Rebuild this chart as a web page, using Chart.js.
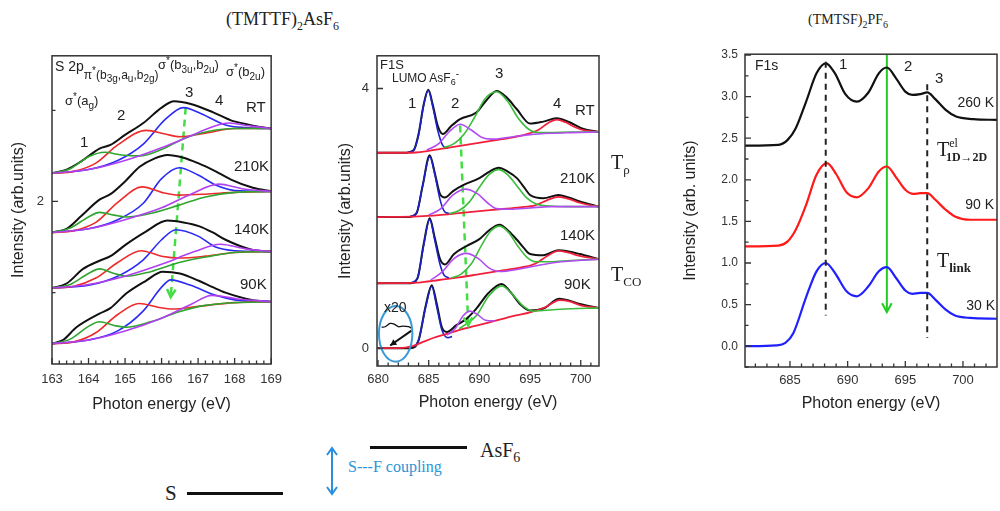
<!DOCTYPE html>
<html>
<head>
<meta charset="utf-8">
<script src="https://cdn.jsdelivr.net/npm/chart.js@4.4.0/dist/chart.umd.min.js"></script>
<style>
body{margin:0;background:#fff;width:1000px;height:511px;position:relative;overflow:hidden;font-family:"Liberation Sans",Arial,sans-serif;}
canvas{position:absolute;}
.t{position:absolute;white-space:nowrap;line-height:1;color:#222;}
.sf{font-family:"Liberation Serif","DejaVu Serif",serif;}
sub,sup{line-height:0;}
</style>
</head>
<body>

<canvas id="gS" width="290" height="380" style="left:0;top:40px"></canvas>
<canvas id="gF" width="285" height="380" style="left:330px;top:40px"></canvas>
<canvas id="gP" width="320" height="380" style="left:680px;top:40px"></canvas>

<!-- titulos -->
<div class="t sf" style="left:226px;top:10px;font-size:18px">(TMTTF)<sub style="font-size:12px">2</sub>AsF<sub style="font-size:12px">6</sub></div>
<div class="t sf" style="left:808px;top:13px;font-size:14px">(TMTSF)<sub style="font-size:10px">2</sub>PF<sub style="font-size:10px">6</sub></div>

<!-- panel S 2p -->
<div class="t" style="left:55px;top:59px;font-size:14px">S 2p<span style="font-size:12px;position:relative;top:8px">&pi;<sup style="font-size:10px">*</sup>(b<sub style="font-size:10px">3g</sub>,a<sub style="font-size:10px">u</sub>,b<sub style="font-size:10px">2g</sub>)</span></div>
<div class="t" style="left:158px;top:58px;font-size:13px">&sigma;<sup style="font-size:10px">*</sup>(b<sub style="font-size:10px">3u</sub>,b<sub style="font-size:10px">2u</sub>)</div>
<div class="t" style="left:226px;top:65px;font-size:13px">&sigma;<sup style="font-size:10px">*</sup>(b<sub style="font-size:10px">2u</sub>)</div>
<div class="t" style="left:65px;top:94px;font-size:13px">&sigma;<sup style="font-size:10px">*</sup>(a<sub style="font-size:10px">g</sub>)</div>
<div class="t" style="left:80px;top:134px;font-size:15px">1</div>
<div class="t" style="left:117px;top:107px;font-size:15px">2</div>
<div class="t" style="left:185px;top:84px;font-size:15px">3</div>
<div class="t" style="left:215px;top:92px;font-size:15px">4</div>
<div class="t" style="left:246px;top:99px;font-size:15px">RT</div>
<div class="t" style="left:234px;top:158px;font-size:15px">210K</div>
<div class="t" style="left:234px;top:221px;font-size:15px">140K</div>
<div class="t" style="left:240px;top:276px;font-size:15px">90K</div>

<!-- panel F1S -->
<div class="t" style="left:380px;top:58px;font-size:13px">F1S</div>
<div class="t" style="left:392px;top:72px;font-size:12px">LUMO AsF<sub style="font-size:9px">6</sub><sup style="font-size:10px">-</sup></div>
<div class="t" style="left:408px;top:95px;font-size:15px">1</div>
<div class="t" style="left:451px;top:95px;font-size:15px">2</div>
<div class="t" style="left:495px;top:65px;font-size:15px">3</div>
<div class="t" style="left:553px;top:95px;font-size:15px">4</div>
<div class="t" style="left:575px;top:102px;font-size:15px">RT</div>
<div class="t" style="left:560px;top:170px;font-size:15px">210K</div>
<div class="t" style="left:560px;top:227px;font-size:15px">140K</div>
<div class="t" style="left:564px;top:276px;font-size:15px">90K</div>
<div class="t" style="left:384px;top:300px;font-size:14px">x20</div>
<div class="t sf" style="left:611px;top:152px;font-size:20px">T<sub style="font-size:13px">&rho;</sub></div>
<div class="t sf" style="left:611px;top:264px;font-size:20px">T<sub style="font-size:13px">CO</sub></div>

<!-- panel (TMTSF)2PF6 -->
<div class="t" style="left:755px;top:58px;font-size:14px">F1s</div>
<div class="t" style="left:839px;top:56px;font-size:15px">1</div>
<div class="t" style="left:904px;top:58px;font-size:15px">2</div>
<div class="t" style="left:935px;top:70px;font-size:15px">3</div>
<div class="t" style="right:6px;top:95px;font-size:14px">260 K</div>
<div class="t" style="right:6px;top:197px;font-size:14px">90 K</div>
<div class="t" style="right:5px;top:298px;font-size:14px">30 K</div>
<div class="t sf" style="left:937px;top:139px;font-size:20px">T<span style="font-size:12px;position:relative;top:-9px">el</span><span style="font-size:12px;position:relative;top:5px;left:-12px;font-weight:bold">1D&rarr;2D</span></div>
<div class="t sf" style="left:937px;top:250px;font-size:20px">T<sub style="font-size:13px;font-weight:bold">link</sub></div>

<!-- esquema inferior -->
<div class="t sf" style="left:165px;top:483px;font-size:21px">S</div>
<div style="position:absolute;left:187px;top:492px;width:96px;height:3px;background:#111"></div>
<div style="position:absolute;left:370px;top:446px;width:97px;height:3px;background:#111"></div>
<div class="t sf" style="left:480px;top:440px;font-size:20px">AsF<sub style="font-size:14px">6</sub></div>
<div class="t sf" style="left:348px;top:459px;font-size:16px;color:#2b95d6">S---F coupling</div>
<svg style="position:absolute;left:324px;top:445px" width="16" height="52">
  <line x1="8" y1="4" x2="8" y2="48" stroke="#2b8fe0" stroke-width="2"/>
  <polyline points="3,10 8,3 13,10" fill="none" stroke="#2b8fe0" stroke-width="2"/>
  <polyline points="3,42 8,49 13,42" fill="none" stroke="#2b8fe0" stroke-width="2"/>
</svg>

<script>
// ---------- S 2p, (TMTTF)2AsF6 ----------
var s2pRT_total  = [[163,2.31],[163.4,2.35],[163.8,2.44],[164.3,2.58],[164.6,2.62],[165,2.73],[165.5,2.86],[166,3.03],[166.34,3.10],[166.8,3.07],[167.4,2.98],[167.9,2.89],[168.3,2.85],[168.65,2.82],[169,2.80]];
var s2pRT_green  = [[163,2.31],[163.5,2.36],[164,2.49],[164.44,2.54],[164.9,2.51],[165.4,2.50],[166,2.57],[166.67,2.70],[167.3,2.77],[168,2.80],[169,2.80]];
var s2pRT_red    = [[163,2.31],[163.6,2.33],[164.2,2.42],[164.8,2.62],[165.58,2.78],[166.1,2.74],[166.5,2.71],[167.2,2.75],[168,2.80],[169,2.80]];
var s2pRT_blue   = [[163,2.31],[164,2.35],[164.8,2.45],[165.5,2.63],[166.1,2.90],[166.6,3.03],[167.1,2.96],[167.75,2.84],[168.3,2.81],[169,2.80]];
var s2pRT_purple = [[163,2.31],[164,2.35],[165,2.45],[166,2.59],[166.8,2.72],[167.4,2.82],[167.84,2.86],[168.4,2.83],[169,2.80]];

var s2p210_total  = [[163,1.66],[163.4,1.70],[163.8,1.84],[164.3,2.02],[164.6,2.08],[165,2.22],[165.4,2.38],[165.8,2.47],[166.16,2.51],[166.6,2.48],[167,2.42],[167.48,2.33],[167.9,2.24],[168.5,2.15],[169,2.11]];
var s2p210_green  = [[163,1.66],[163.5,1.71],[164,1.83],[164.3,1.88],[164.7,1.85],[165.03,1.83],[165.6,1.86],[166.48,1.96],[167.2,2.05],[168,2.10],[169,2.11]];
var s2p210_red    = [[163,1.66],[163.6,1.68],[164.2,1.77],[164.8,1.99],[165.48,2.16],[166,2.10],[166.48,2.07],[167.2,2.08],[168,2.10],[169,2.11]];
var s2p210_blue   = [[163,1.66],[164,1.70],[164.8,1.80],[165.5,1.98],[166,2.25],[166.48,2.37],[167,2.29],[167.48,2.18],[168,2.12],[169,2.11]];
var s2p210_purple = [[163,1.66],[164,1.70],[165,1.80],[166,1.93],[166.8,2.08],[167.57,2.19],[168.2,2.14],[169,2.11]];

var s2p140_total  = [[163,1.05],[163.4,1.10],[163.85,1.26],[164.3,1.35],[164.6,1.40],[165.03,1.53],[165.57,1.67],[166.16,1.79],[166.6,1.77],[167.02,1.73],[167.4,1.66],[167.75,1.58],[168.47,1.47],[169,1.45]];
var s2p140_green  = [[163,1.05],[163.5,1.09],[164,1.21],[164.3,1.26],[164.7,1.21],[165.03,1.18],[165.7,1.23],[166.48,1.33],[167.35,1.40],[168,1.44],[169,1.45]];
var s2p140_red    = [[163,1.05],[163.6,1.07],[164.2,1.16],[164.8,1.33],[165.44,1.46],[166,1.40],[166.48,1.38],[167.2,1.40],[168,1.44],[169,1.45]];
var s2p140_blue   = [[163,1.05],[164,1.08],[164.8,1.18],[165.5,1.36],[166,1.58],[166.39,1.69],[167,1.62],[167.48,1.50],[168,1.46],[169,1.45]];
var s2p140_purple = [[163,1.05],[164,1.09],[165,1.18],[166,1.31],[166.9,1.45],[167.61,1.53],[168.3,1.48],[169,1.45]];

var s2p90_total  = [[163,0.44],[163.3,0.48],[163.67,0.62],[164.3,0.77],[164.6,0.83],[165.03,0.99],[165.57,1.13],[166.03,1.23],[166.5,1.21],[167.02,1.13],[167.4,1.06],[167.75,1.00],[168.47,0.92],[169,0.90]];
var s2p90_green  = [[163,0.44],[163.5,0.49],[164,0.63],[164.3,0.68],[164.7,0.64],[165.03,0.62],[165.7,0.68],[166.48,0.79],[167.2,0.86],[168,0.89],[169,0.90]];
var s2p90_red    = [[163,0.44],[163.6,0.46],[164.2,0.56],[164.8,0.76],[165.39,0.88],[165.9,0.84],[166.3,0.82],[167,0.85],[168,0.89],[169,0.90]];
var s2p90_blue   = [[163,0.44],[164,0.48],[164.8,0.58],[165.5,0.80],[166,1.06],[166.25,1.14],[166.8,1.08],[167.48,0.97],[168,0.92],[169,0.90]];
var s2p90_purple = [[163,0.44],[164,0.48],[165,0.58],[166,0.72],[166.8,0.87],[167.38,0.97],[168.1,0.93],[169,0.90]];

var s2pShift = [[166.66,3.03],[166.25,0.95]];

// ---------- F1S, (TMTTF)2AsF6 ----------
var f1RT_total  = [[679.9,3.01],[682.5,3.01],[683.5,3.05],[684,3.3],[684.5,3.75],[684.96,3.98],[685.4,3.75],[685.9,3.42],[686.4,3.30],[687.2,3.42],[688.1,3.53],[689.7,3.63],[690.7,3.82],[691.7,3.96],[692.7,3.86],[693.7,3.68],[695,3.46],[696.3,3.49],[697.6,3.54],[698.9,3.48],[700.2,3.38],[701.8,3.33]];
var f1RT_blue   = [[683,3.02],[683.5,3.04],[684,3.28],[684.5,3.74],[684.96,3.97],[685.4,3.72],[685.9,3.35],[686.4,3.12],[686.9,3.08]];
var f1RT_purple = [[684.8,3.05],[686,3.15],[687,3.33],[688.1,3.45],[689.2,3.36],[690.2,3.25],[691.2,3.22],[693,3.25],[695,3.29],[697,3.31],[699,3.32],[701.8,3.33]];
var f1RT_green  = [[686.5,3.09],[687.5,3.15],[688.5,3.30],[689.5,3.55],[690.6,3.85],[691.7,3.95],[692.8,3.80],[693.8,3.55],[694.8,3.38],[695.8,3.32],[697,3.32],[699,3.33],[701.8,3.33]];
var f1RT_red    = [[679.9,3.01],[683,3.01],[685,3.04],[687,3.09],[689,3.14],[691,3.19],[693,3.24],[694.5,3.29],[695.8,3.36],[696.8,3.47],[697.6,3.52],[698.5,3.48],[699.5,3.40],[700.5,3.35],[701.8,3.33]];

var f1210_total  = [[679.9,2.02],[683,2.02],[683.8,2.08],[684.4,2.5],[685.1,2.97],[685.6,2.7],[686.1,2.38],[686.6,2.32],[687.4,2.42],[688.4,2.51],[690,2.62],[691,2.72],[691.9,2.78],[692.8,2.72],[693.7,2.62],[694.4,2.48],[695,2.36],[696.3,2.31],[697.8,2.36],[698.8,2.32],[699.9,2.26],[701.8,2.18]];
var f1210_blue   = [[683.2,2.03],[683.8,2.08],[684.4,2.5],[685.1,2.95],[685.6,2.68],[686.1,2.3],[686.5,2.12],[687,2.07]];
var f1210_purple = [[685,2.05],[686.2,2.15],[687.4,2.36],[688.6,2.45],[689.8,2.38],[690.8,2.24],[691.7,2.15],[693,2.14],[695,2.16],[697,2.18],[699,2.18],[701.8,2.18]];
var f1210_green  = [[687,2.07],[688,2.12],[689,2.25],[690,2.48],[691,2.68],[691.9,2.75],[692.8,2.67],[693.8,2.48],[694.7,2.31],[695.6,2.22],[697,2.19],[699,2.18],[701.8,2.18]];
var f1210_red    = [[679.9,2.02],[684,2.03],[686,2.05],[688,2.08],[690,2.11],[692,2.14],[694,2.17],[695.5,2.20],[696.7,2.28],[697.8,2.33],[698.8,2.30],[699.9,2.24],[701,2.20],[701.8,2.18]];

var f1140_total  = [[679.9,1.0],[683.2,1.0],[683.9,1.08],[684.5,1.6],[685.1,2.0],[685.6,1.7],[686.1,1.38],[686.6,1.29],[687.5,1.45],[688.7,1.57],[690,1.68],[691,1.82],[692,1.90],[692.9,1.80],[693.7,1.67],[694.4,1.54],[695,1.45],[696.3,1.43],[697.8,1.51],[698.8,1.49],[699.9,1.45],[701.8,1.37]];
var f1140_blue   = [[683.3,1.01],[683.9,1.08],[684.5,1.58],[685.1,1.98],[685.6,1.66],[686.1,1.3],[686.5,1.13],[687,1.08]];
var f1140_purple = [[685.2,1.05],[686.3,1.17],[687.5,1.38],[688.7,1.46],[689.9,1.38],[690.9,1.24],[692,1.18],[694,1.22],[696,1.28],[698,1.33],[701.8,1.37]];
var f1140_green  = [[687.2,1.08],[688.2,1.14],[689.2,1.30],[690.2,1.58],[691.1,1.80],[692,1.88],[692.9,1.78],[693.8,1.57],[694.7,1.40],[695.6,1.33],[697,1.33],[699,1.35],[701.8,1.37]];
var f1140_red    = [[679.9,1.0],[684,1.01],[686,1.05],[688,1.09],[690,1.14],[692,1.19],[694,1.24],[695.5,1.30],[696.7,1.42],[697.8,1.50],[698.8,1.47],[699.9,1.42],[701,1.39],[701.8,1.37]];

var f190_total  = [[679.9,0],[683.2,0],[684,0.12],[684.7,0.65],[685.3,0.97],[685.8,0.68],[686.3,0.32],[686.8,0.25],[687.7,0.35],[688.7,0.45],[689.7,0.61],[690.9,0.85],[692.2,0.99],[693.1,0.86],[694,0.68],[695,0.58],[696.3,0.61],[697.9,0.76],[698.9,0.73],[699.9,0.68],[701.8,0.62]];
var f190_blue   = [[683.5,0.02],[684,0.12],[684.7,0.63],[685.3,0.95],[685.8,0.63],[686.3,0.28],[686.9,0.16],[687.3,0.18]];
var f190_purple = [[686.8,0.20],[687.6,0.30],[688.4,0.50],[689.1,0.57],[689.8,0.52],[690.6,0.43],[691.5,0.42]];
var f190_green  = [[688,0.30],[688.8,0.38],[689.8,0.52],[690.9,0.80],[692.2,0.96],[693.2,0.84],[694.3,0.65],[695.3,0.57],[696.3,0.58],[698,0.60],[701.8,0.62]];
var f190_red    = [[679.9,0],[682,0],[683.4,0.03],[684.5,0.10],[685.5,0.16],[686.8,0.22],[688.5,0.30],[690,0.36],[691.8,0.43],[693.5,0.50],[695,0.55],[696.5,0.63],[697.9,0.74],[698.9,0.72],[700,0.66],[701.8,0.62]];

var f1Zoom20  = [[680.36,0.32],[680.7,0.33],[681.2,0.38],[681.6,0.37],[682,0.33],[682.5,0.34],[683,0.33],[683.3,0.31]];
var f1Pointer = [[683.3,0.27],[681.2,0.04]];
var f1Shift   = [[688.1,3.43],[688.9,0.35]];
var f1Ring    = {x:681.74, y:0.22, rx:1.65, ry:0.43};

// ---------- F1s, (TMTSF)2PF6 ----------
var pf260 = [[681.1,2.41],[684,2.42],[684.8,2.48],[685.5,2.62],[686.4,2.94],[687.3,3.28],[688.1,3.40],[688.9,3.28],[689.8,3.03],[690.8,2.94],[691.8,3.05],[692.7,3.28],[693.4,3.35],[694.2,3.22],[695,3.06],[695.6,3.02],[696.3,3.03],[696.9,3.05],[697.6,2.97],[698.5,2.84],[699.4,2.76],[700.9,2.73],[703,2.72]];
var pf90  = [[681.1,1.20],[684,1.21],[684.8,1.26],[685.5,1.40],[686.4,1.70],[687.3,2.06],[688.2,2.20],[689,2.07],[689.9,1.85],[690.8,1.79],[691.8,1.90],[692.7,2.10],[693.4,2.16],[694.2,2.03],[695,1.88],[695.7,1.83],[696.3,1.84],[696.9,1.84],[697.6,1.76],[698.5,1.64],[699.3,1.56],[700.6,1.52],[703,1.52]];
var pf30  = [[681.1,0],[683.8,0.01],[684.6,0.04],[685.3,0.16],[686.4,0.59],[687.3,0.90],[688.1,1.0],[688.9,0.88],[689.9,0.66],[690.8,0.60],[691.8,0.72],[692.7,0.90],[693.4,0.95],[694.2,0.82],[695,0.67],[695.6,0.63],[696.3,0.64],[696.9,0.64],[697.6,0.56],[698.5,0.44],[699.3,0.37],[700.6,0.34],[703,0.33]];
var pfMark1 = [[688.1,3.42],[688.1,0.37]];
var pfMark3 = [[696.9,3.15],[696.9,0.10]];
var pfShift = [[693.4,3.51],[693.4,0.41]];

// ---------- ayudas ----------
function xy(a){ return a.map(function(p){ return {x:p[0], y:p[1]}; }); }
function linea(datos, color, ancho, extra){
	var d = {data:xy(datos), borderColor:color, borderWidth:ancho, pointRadius:0, fill:false, cubicInterpolationMode:'monotone'};
	if(extra){ for(var k in extra){ d[k]=extra[k]; } }
	return d;
}

var marco = {
	id:'marco',
	afterDatasetsDraw:function(chart){
		var ctx=chart.ctx;
		chart.data.datasets.forEach(function(ds,i){
			if(!ds.flecha) return;
			var pts=chart.getDatasetMeta(i).data;
			var a=pts[pts.length-2], b=pts[pts.length-1];
			var ang=Math.atan2(b.y-a.y,b.x-a.x), L=ds.flechaLargo||9;
			ctx.save();
			ctx.strokeStyle=ds.borderColor; ctx.fillStyle=ds.borderColor; ctx.lineWidth=ds.borderWidth; ctx.setLineDash([]);
			ctx.beginPath();
			ctx.moveTo(b.x-L*Math.cos(ang-0.5), b.y-L*Math.sin(ang-0.5));
			ctx.lineTo(b.x, b.y);
			ctx.lineTo(b.x-L*Math.cos(ang+0.5), b.y-L*Math.sin(ang+0.5));
			if(ds.flecha==='llena'){ ctx.closePath(); ctx.fill(); } else { ctx.stroke(); }
			ctx.restore();
		});
		var anillo=chart.options.plugins.marco && chart.options.plugins.marco.anillo;
		if(anillo){
			var sx=chart.scales.x, sy=chart.scales.y;
			var cx=sx.getPixelForValue(anillo.x), cy=sy.getPixelForValue(anillo.y);
			var rx=Math.abs(sx.getPixelForValue(anillo.x+anillo.rx)-cx), ry=Math.abs(sy.getPixelForValue(anillo.y+anillo.ry)-cy);
			ctx.save(); ctx.strokeStyle='#3a9ad9'; ctx.lineWidth=2;
			ctx.beginPath(); ctx.ellipse(cx,cy,rx,ry,0,0,Math.PI*2); ctx.stroke(); ctx.restore();
		}
	},
	afterDraw:function(chart){
		var ctx=chart.ctx, a=chart.chartArea, sx=chart.scales.x, sy=chart.scales.y;
		ctx.save();
		ctx.strokeStyle='#333'; ctx.lineWidth=1.5;
		ctx.strokeRect(a.left,a.top,a.right-a.left,a.bottom-a.top);
		ctx.lineWidth=1.3;
		ctx.beginPath();
		sx.ticks.forEach(function(t){
			var p=sx.getPixelForValue(t.value), L=t.label?6:3.5;
			ctx.moveTo(p,a.bottom); ctx.lineTo(p,a.bottom-L);
		});
		sy.ticks.forEach(function(t){
			var p=sy.getPixelForValue(t.value), L=t.label?6:3.5;
			ctx.moveTo(a.left,p); ctx.lineTo(a.left+L,p);
		});
		ctx.stroke();
		ctx.restore();
	}
};

function marcas(desde, hasta, paso){
	var r=[], n=Math.round((hasta-desde)/paso);
	for(var i=0;i<=n;i++){ r.push({value:+(desde+i*paso).toFixed(4)}); }
	return r;
}

function opciones(cfg){
	return {
		responsive:false, animation:false,
		layout:{padding:cfg.pad},
		plugins:{legend:{display:false}, tooltip:{enabled:false}, marco:{anillo:cfg.anillo}},
		scales:{
			x:{type:'linear', min:cfg.xmin, max:cfg.xmax,
				grid:{display:false, drawTicks:false}, border:{display:false},
				afterBuildTicks:function(s){ s.ticks=cfg.xt; },
				afterFit:function(s){ s.height=cfg.xh; },
				ticks:{padding:cfg.xpad, color:'#333', font:{size:13, family:'"Liberation Sans", Arial'}, maxRotation:0, autoSkip:false, callback:cfg.xlab},
				title:{display:true, text:'Photon energy (eV)', color:'#222', font:{size:16, family:'"Liberation Sans", Arial'}, padding:{top:0, bottom:cfg.xtb}}
			},
			y:{type:'linear', min:cfg.ymin, max:cfg.ymax,
				grid:{display:false, drawTicks:false}, border:{display:false},
				afterBuildTicks:function(s){ s.ticks=cfg.yt; },
				afterFit:function(s){ s.width=cfg.yw; },
				ticks:{padding:cfg.ypad, color:'#333', font:{size:cfg.yfs||13, family:'"Liberation Sans", Arial'}, autoSkip:false, callback:cfg.ylab},
				title:{display:true, text:cfg.ytitle, color:'#222', font:{size:16, family:'"Liberation Sans", Arial'}, padding:{top:cfg.ytt, bottom:0}}
			}
		}
	};
}

var NEGRO='#111', VERDE='#2fa52f', ROJO='#ee2a2a', AZUL='#2b2bf5', MORADO='#b040f0';

// ---- grafica S 2p ----
var dsS=[];
[[s2pRT_purple,s2pRT_green,s2pRT_red,s2pRT_blue,s2pRT_total],
 [s2p210_purple,s2p210_green,s2p210_red,s2p210_blue,s2p210_total],
 [s2p140_purple,s2p140_green,s2p140_red,s2p140_blue,s2p140_total],
 [s2p90_purple,s2p90_green,s2p90_red,s2p90_blue,s2p90_total]].forEach(function(g){
	dsS.push(linea(g[0],MORADO,1.6));
	dsS.push(linea(g[1],VERDE,1.6));
	dsS.push(linea(g[2],ROJO,1.6));
	dsS.push(linea(g[3],AZUL,1.6));
	dsS.push(linea(g[4],NEGRO,2));
});
dsS.push(linea(s2pShift,'#44dd44',2.5,{borderDash:[7,5], flecha:'abierta', cubicInterpolationMode:'default', tension:0}));

new Chart(document.getElementById('gS'),{
	type:'line', data:{datasets:dsS}, plugins:[marco],
	options:opciones({pad:{left:0,top:13,right:17,bottom:0}, xmin:163, xmax:169, ymin:0.217, ymax:3.598,
		xt:marcas(163,169,0.2), xh:56, xpad:8, xtb:6,
		xlab:function(v){ return Math.abs(v-Math.round(v))<1e-6 ? String(Math.round(v)) : ''; },
		yt:marcas(1,3,1), yw:52, ypad:8, ytt:9, ytitle:'Intensity (arb.units)',
		ylab:function(v){ return v===2 ? '2' : ''; }})
});

// ---- grafica F1S ----
var AZUL2='#1c22c8', MORADO2='#b24cf2', VERDE2='#3cbc3c', ROJO2='#f0203c';
var dsF=[];
[[f1RT_red,f1RT_purple,f1RT_green,f1RT_blue,f1RT_total],
 [f1210_red,f1210_purple,f1210_green,f1210_blue,f1210_total],
 [f1140_red,f1140_purple,f1140_green,f1140_blue,f1140_total],
 [f190_red,f190_purple,f190_green,f190_blue,f190_total]].forEach(function(g){
	dsF.push(linea(g[1],MORADO2,1.6));
	dsF.push(linea(g[2],VERDE2,1.6));
	dsF.push(linea(g[0],ROJO2,1.8));
	dsF.push(linea(g[3],AZUL2,1.6));
	dsF.push(linea(g[4],NEGRO,2));
});
dsF.push(linea(f1Zoom20,NEGRO,1.3,{cubicInterpolationMode:'default', tension:0.3}));
dsF.push(linea(f1Pointer,NEGRO,2,{flecha:'llena', flechaLargo:7, cubicInterpolationMode:'default', tension:0}));
dsF.push(linea(f1Shift,'#44dd44',2.5,{borderDash:[7,5], flecha:'abierta', cubicInterpolationMode:'default', tension:0}));

new Chart(document.getElementById('gF'),{
	type:'line', data:{datasets:dsF}, plugins:[marco],
	options:opciones({pad:{left:0,top:13,right:16,bottom:0}, xmin:679.9, xmax:701.8, ymin:-0.275, ymax:4.504,
		xt:marcas(680,701,1), xh:54, xpad:6, xtb:8,
		xlab:function(v){ return v%5===0 ? String(v) : ''; },
		yt:[{value:0},{value:4}], yw:47, ypad:8, ytt:6, ytitle:'Intensity (arb.units)',
		ylab:function(v){ return String(v); }, anillo:f1Ring})
});

// ---- grafica (TMTSF)2PF6 ----
var dsP=[
	linea(pfMark1,'#222',2,{borderDash:[6,5], cubicInterpolationMode:'default', tension:0}),
	linea(pfMark3,'#222',2,{borderDash:[6,5], cubicInterpolationMode:'default', tension:0}),
	linea(pf260,NEGRO,2.2),
	linea(pf90,'#ff1a1a',2.2),
	linea(pf30,'#2020ff',2.2),
	linea(pfShift,'#22cc22',2,{flecha:'abierta', flechaLargo:10, cubicInterpolationMode:'default', tension:0})
];

new Chart(document.getElementById('gP'),{
	type:'line', data:{datasets:dsP}, plugins:[marco],
	options:opciones({pad:{left:0,top:12,right:3,bottom:0}, xmin:681.1, xmax:702.95, ymin:-0.25, ymax:3.51,
		xt:marcas(682,702,1), xh:53, xpad:6, xtb:7,
		xlab:function(v){ return v%5===0 ? String(v) : ''; },
		yt:marcas(-0.25,3.5,0.25), yw:65, ypad:7, ytt:1, yfs:12, ytitle:'Intensity (arb. units)',
		ylab:function(v){ return Math.abs(v*2-Math.round(v*2))<1e-6 ? v.toFixed(1) : ''; }})
});
</script>
</body>
</html>
